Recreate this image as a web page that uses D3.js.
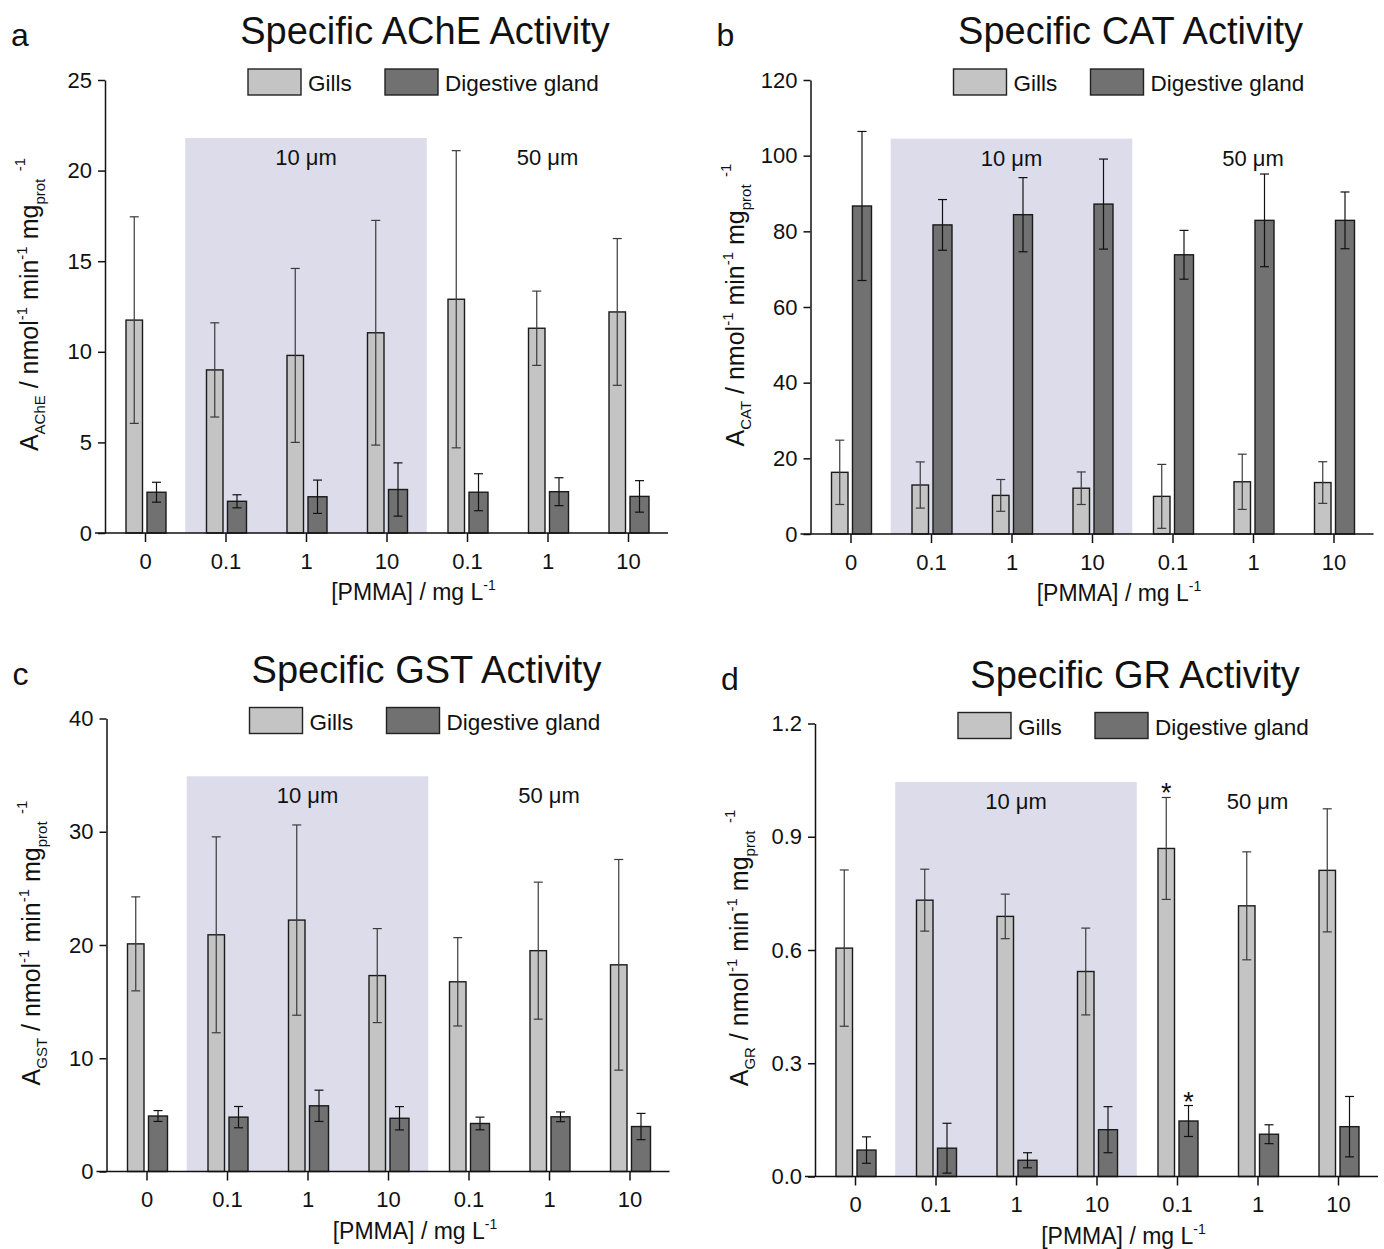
<!DOCTYPE html>
<html lang="en">
<head>
    <meta charset="UTF-8">
    <title>Specific enzyme activities</title>
    <script src="https://d3js.org/d3.v7.min.js"></script>
    <style>
        body { margin: 0; background: #fff; }
        text { font-family: "Liberation Sans", Arial, sans-serif; fill: #111; }
    </style>
</head>
<body>
    <svg></svg>
    <script>
        // x categories ([PMMA] in mg/L), first is control, then 10 um and 50 um particles
        const categories = ["0", "0.1", "1", "10", "0.1", "1", "10"];

        // a: AChE
        const acheGills = [11.75, 9.0, 9.8, 11.05, 12.9, 11.3, 12.2];
        const acheGillsErr = [5.7, 2.6, 4.8, 6.2, 8.2, 2.05, 4.05];
        const acheDig = [2.25, 1.75, 2.0, 2.4, 2.25, 2.28, 2.02];
        const acheDigErr = [0.55, 0.36, 0.92, 1.47, 1.02, 0.77, 0.87];

        // b: CAT
        const catGills = [16.3, 12.95, 10.2, 12.1, 9.95, 13.8, 13.6];
        const catGillsErr = [8.5, 6.1, 4.2, 4.3, 8.45, 7.3, 5.5];
        const catDig = [86.7, 81.7, 84.4, 87.2, 73.8, 82.9, 82.9];
        const catDigErr = [19.7, 6.7, 9.8, 11.9, 6.45, 12.25, 7.5];

        // c: GST
        const gstGills = [20.1, 20.9, 22.2, 17.3, 16.75, 19.5, 18.25];
        const gstGillsErr = [4.15, 8.65, 8.4, 4.15, 3.9, 6.05, 9.3];
        const gstDig = [4.9, 4.8, 5.8, 4.7, 4.24, 4.83, 3.97];
        const gstDigErr = [0.48, 0.94, 1.38, 1.03, 0.56, 0.43, 1.16];

        // d: GR
        const grGills = [0.605, 0.732, 0.689, 0.543, 0.869, 0.717, 0.811];
        const grGillsErr = [0.207, 0.082, 0.059, 0.115, 0.135, 0.143, 0.163];
        const grDig = [0.07, 0.075, 0.043, 0.124, 0.147, 0.112, 0.132];
        const grDigErr = [0.035, 0.066, 0.02, 0.061, 0.041, 0.025, 0.08];
        const grGillsSig = [4];
        const grDigSig = [4];

        const acheTicks = [0, 5, 10, 15, 20, 25];
        const catTicks = [0, 20, 40, 60, 80, 100, 120];
        const gstTicks = [0, 10, 20, 30, 40];
        const grTicks = [0, 0.3, 0.6, 0.9, 1.2];

        const GILLS = "#c4c4c4";
        const DIG = "#717171";
        const SHADE = "#dcdcea";

        const svg = d3.select("svg")
            .attr("width", 1384)
            .attr("height", 1249);

        function Panel(cfg) {
            const g = svg.append("g");
            const x0 = cfg.x0;
            const step = 80.5;

            const x = d3.scalePoint()
                .domain(d3.range(categories.length))
                .range([x0 + 40, x0 + 40 + step * (categories.length - 1)]);

            const y = d3.scaleLinear()
                .domain([0, cfg.yTicks[cfg.yTicks.length - 1]])
                .range([cfg.bottom, cfg.top]);

            // shaded 10 um block
            const sx1 = (x(0) + x(1)) / 2;
            const sx2 = (x(3) + x(4)) / 2;
            g.append("rect")
                .attr("x", sx1)
                .attr("y", y(cfg.shadeTop))
                .attr("width", sx2 - sx1)
                .attr("height", cfg.bottom - y(cfg.shadeTop))
                .attr("fill", SHADE);

            g.append("text")
                .attr("x", (sx1 + sx2) / 2)
                .attr("y", y(cfg.shadeTop) + 27)
                .attr("text-anchor", "middle")
                .style("font-size", "22px")
                .text("10 μm");
            g.append("text")
                .attr("x", x(5))
                .attr("y", y(cfg.shadeTop) + 27)
                .attr("text-anchor", "middle")
                .style("font-size", "22px")
                .text("50 μm");

            const series = [
                { vals: cfg.gills, errs: cfg.gillsErr, fill: GILLS, left: -19, w: 16.5, errColor: "#3a3a3a", sig: cfg.gillsSig || [] },
                { vals: cfg.dig, errs: cfg.digErr, fill: DIG, left: 2, w: 19, errColor: "#111", sig: cfg.digSig || [] }
            ];

            series.forEach(s => {
                const data = s.vals.map((v, i) => ({ i, v, e: s.errs[i] }));
                g.selectAll(null)
                    .data(data)
                    .enter()
                    .append("rect")
                    .attr("x", d => x(d.i) + s.left)
                    .attr("y", d => y(d.v))
                    .attr("width", s.w)
                    .attr("height", d => cfg.bottom - y(d.v))
                    .attr("fill", s.fill)
                    .attr("stroke", "#1a1a1a")
                    .attr("stroke-width", 1.4);

                const eb = g.selectAll(null)
                    .data(data)
                    .enter()
                    .append("g")
                    .attr("stroke", s.errColor)
                    .attr("stroke-width", 1.2);
                const cx = d => x(d.i) + s.left + s.w / 2;
                eb.append("line")
                    .attr("x1", cx).attr("x2", cx)
                    .attr("y1", d => y(d.v + d.e))
                    .attr("y2", d => y(d.v - d.e));
                eb.append("line")
                    .attr("x1", d => cx(d) - 4.5).attr("x2", d => cx(d) + 4.5)
                    .attr("y1", d => y(d.v + d.e)).attr("y2", d => y(d.v + d.e));
                eb.append("line")
                    .attr("x1", d => cx(d) - 4.5).attr("x2", d => cx(d) + 4.5)
                    .attr("y1", d => y(d.v - d.e)).attr("y2", d => y(d.v - d.e));

                g.selectAll(null)
                    .data(data.filter(d => s.sig.includes(d.i)))
                    .enter()
                    .append("text")
                    .attr("x", cx)
                    .attr("y", d => y(d.v + d.e) + 5)
                    .attr("text-anchor", "middle")
                    .style("font-size", "27px")
                    .text("*");
            });

            // axes
            g.append("g")
                .attr("transform", `translate(${x0},0)`)
                .call(d3.axisLeft(y).tickValues(cfg.yTicks).tickFormat(cfg.fmt).tickSize(7).tickSizeOuter(0).tickPadding(6))
                .call(a => a.selectAll("line, path").attr("stroke", "#111").attr("stroke-width", 1.5))
                .call(a => a.selectAll("text").style("font-size", "22px").attr("fill", "#111"));

            g.append("line")
                .attr("x1", x0 - 10).attr("x2", x(categories.length - 1) + 40)
                .attr("y1", cfg.bottom).attr("y2", cfg.bottom)
                .attr("stroke", "#111").attr("stroke-width", 1.5);

            g.append("g")
                .attr("transform", `translate(0,${cfg.bottom})`)
                .call(d3.axisBottom(x).tickFormat(i => categories[i]).tickSize(9).tickPadding(11))
                .call(a => a.select(".domain").remove())
                .call(a => a.selectAll("line").attr("stroke", "#111").attr("stroke-width", 1.5))
                .call(a => a.selectAll("text").style("font-size", "22px").attr("fill", "#111"));

            // x title
            const xt = g.append("text")
                .attr("x", (x(0) + x(6)) / 2 + 27)
                .attr("y", cfg.bottom + 67)
                .attr("text-anchor", "middle")
                .style("font-size", "23px");
            xt.append("tspan").text("[PMMA] / mg L");
            xt.append("tspan").attr("dy", -10).style("font-size", "14px").text("-1");

            // y title
            const yt = g.append("text")
                .attr("transform", `translate(${x0 - 67},${(cfg.top + cfg.bottom) / 2 - 2}) rotate(-90)`)
                .attr("text-anchor", "middle")
                .style("font-size", "25px");
            yt.append("tspan").text("A");
            yt.append("tspan").attr("dy", 7).style("font-size", "15px").text(cfg.sub);
            yt.append("tspan").attr("dy", -7).text(" / nmol");
            yt.append("tspan").attr("dy", -11).style("font-size", "15px").text("-1");
            yt.append("tspan").attr("dy", 11).text(" min");
            yt.append("tspan").attr("dy", -11).style("font-size", "15px").text("-1");
            yt.append("tspan").attr("dy", 11).text(" mg");
            yt.append("tspan").attr("dy", 7).style("font-size", "15px").text("prot");
            yt.append("tspan").attr("dy", -20).style("font-size", "15px").text("\u2002-1");

            // title and panel letter
            g.append("text")
                .attr("x", x0 + 320)
                .attr("y", cfg.top - 36)
                .attr("text-anchor", "middle")
                .style("font-size", "38px")
                .text(cfg.title);
            g.append("text")
                .attr("x", x0 - 94)
                .attr("y", cfg.top - 34)
                .style("font-size", "32px")
                .text(cfg.letter);

            // legend
            const leg = [
                { name: "Gills", fill: GILLS, dx: 143 },
                { name: "Digestive gland", fill: DIG, dx: 280 }
            ];
            leg.forEach(l => {
                g.append("rect")
                    .attr("x", x0 + l.dx)
                    .attr("y", cfg.top - 11)
                    .attr("width", 53)
                    .attr("height", 26)
                    .attr("fill", l.fill)
                    .attr("stroke", "#222")
                    .attr("stroke-width", 1.4);
                g.append("text")
                    .attr("x", x0 + l.dx + 60)
                    .attr("y", cfg.top + 11)
                    .style("font-size", "22.5px")
                    .text(l.name);
            });
        }

        Panel({ letter: "a", title: "Specific AChE Activity", sub: "AChE", x0: 105, top: 80, bottom: 533,
            yTicks: acheTicks, fmt: d3.format("d"), shadeTop: 21.8,
            gills: acheGills, gillsErr: acheGillsErr, dig: acheDig, digErr: acheDigErr });

        Panel({ letter: "b", title: "Specific CAT Activity", sub: "CAT", x0: 810.5, top: 80, bottom: 534,
            yTicks: catTicks, fmt: d3.format("d"), shadeTop: 104.5,
            gills: catGills, gillsErr: catGillsErr, dig: catDig, digErr: catDigErr });

        Panel({ letter: "c", title: "Specific GST Activity", sub: "GST", x0: 106.5, top: 718.5, bottom: 1171.5,
            yTicks: gstTicks, fmt: d3.format("d"), shadeTop: 34.9,
            gills: gstGills, gillsErr: gstGillsErr, dig: gstDig, digErr: gstDigErr });

        Panel({ letter: "d", title: "Specific GR Activity", sub: "GR", x0: 815, top: 723.5, bottom: 1176.5,
            yTicks: grTicks, fmt: d3.format(".1f"), shadeTop: 1.045,
            gills: grGills, gillsErr: grGillsErr, dig: grDig, digErr: grDigErr,
            gillsSig: grGillsSig, digSig: grDigSig });
    </script>
</body>
</html>
